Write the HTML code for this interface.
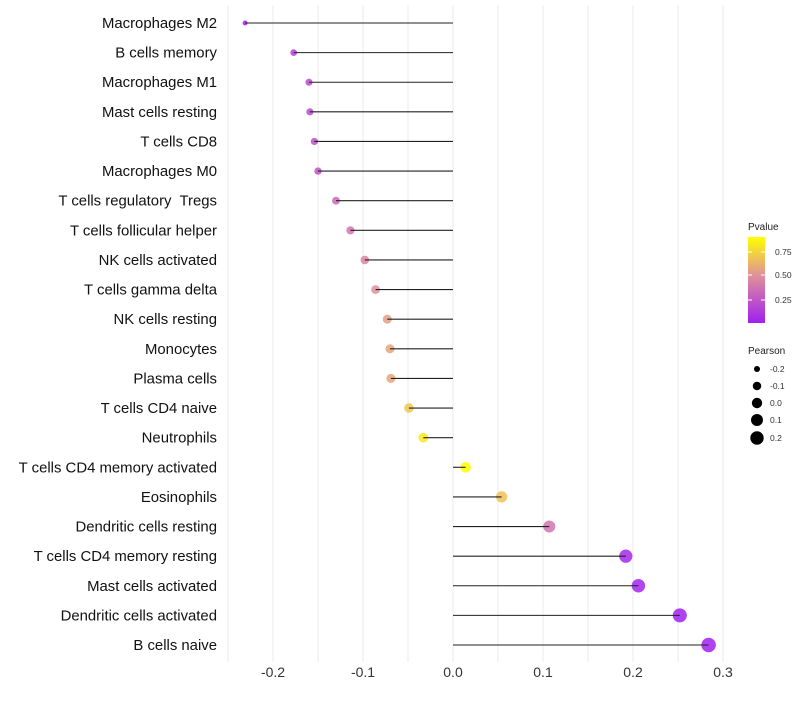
<!DOCTYPE html>
<html><head><meta charset="utf-8"><style>
body{margin:0;background:#fff;font-family:"Liberation Sans",sans-serif}
text{white-space:pre}
</style></head><body>
<svg id="c" width="800" height="700" xmlns="http://www.w3.org/2000/svg">
<defs><linearGradient id="pg" x1="0" y1="1" x2="0" y2="0">
<stop offset="0" stop-color="#A020F0"/><stop offset="0.55" stop-color="#E0909A"/><stop offset="1" stop-color="#FFFF00"/></linearGradient></defs>
</svg>
<script>
const categories=["Macrophages M2","B cells memory","Macrophages M1","Mast cells resting","T cells CD8","Macrophages M0","T cells regulatory  Tregs","T cells follicular helper","NK cells activated","T cells gamma delta","NK cells resting","Monocytes","Plasma cells","T cells CD4 naive","Neutrophils","T cells CD4 memory activated","Eosinophils","Dendritic cells resting","T cells CD4 memory resting","Mast cells activated","Dendritic cells activated","B cells naive"];
const pearson=[-0.231,-0.177,-0.16,-0.159,-0.154,-0.15,-0.13,-0.114,-0.098,-0.086,-0.073,-0.07,-0.069,-0.049,-0.033,0.014,0.054,0.107,0.192,0.206,0.252,0.284];
const pvalue=[0.02,0.15,0.2,0.2,0.22,0.24,0.33,0.38,0.45,0.5,0.55,0.58,0.58,0.7,0.82,0.9,0.68,0.38,0.05,0.03,0.01,0.01];
const xTicks=[-0.2,-0.1,0.0,0.1,0.2,0.3];
const xTickLabels=["-0.2","-0.1","0.0","0.1","0.2","0.3"];
const NS="http://www.w3.org/2000/svg";
const svg=document.getElementById('c');
const X=v=>453+v*900;
const Y=i=>23+i*(622/21);
const R=v=>Math.sqrt(Math.max(2.2,27+89*v));
function lerp(a,b,t){return a.map((x,i)=>Math.round(x+(b[i]-x)*t));}
function col(p){const t=Math.min(1,Math.max(0,(p-0.01)/0.89));const s=[[160,32,240],[224,144,154],[255,255,0]];
 const c=t<0.55?lerp(s[0],s[1],t/0.55):lerp(s[1],s[2],(t-0.55)/0.45);return `rgb(${c})`;}
function el(t,a,p){const e=document.createElementNS(NS,t);for(const k in a)e.setAttribute(k,a[k]);(p||svg).appendChild(e);return e;}
for(let v=-0.25;v<=0.3001;v+=0.05){const g=el('line',{x1:X(v),x2:X(v),y1:5,y2:662,stroke:'#ebebeb','stroke-width':1});

}
xTicks.forEach((v,i)=>{const t=el('text',{x:X(v),y:677,'text-anchor':'middle','font-size':14,fill:'#333'});t.textContent=xTickLabels[i];

});
categories.forEach((c,i)=>{const y=Y(i);
const t=el('text',{x:217,y:y+5,'text-anchor':'end','font-size':14.9,fill:'#111'});t.textContent=c;


const d=el('circle',{cx:X(pearson[i]),cy:y,r:R(pearson[i]),fill:col(pvalue[i]),'fill-opacity':0.85});


const l=el('line',{x1:X(0),x2:X(pearson[i]),y1:y,y2:y,stroke:'#222','stroke-width':1.1});

});
const g=el('g',{});
el('text',{x:748,y:230,'font-size':10,fill:'#222'},g).textContent='Pvalue';
el('rect',{x:748,y:237,width:17,height:86,fill:'url(#pg)'},g);
[[0.75,252],[0.5,275],[0.25,300]].forEach(([v,y])=>{el('text',{x:775,y:y+3,'font-size':8.5,fill:'#333'},g).textContent=v.toFixed(2);
el('line',{x1:748,x2:752,y1:y,y2:y,stroke:'#fff'},g);el('line',{x1:761,x2:765,y1:y,y2:y,stroke:'#fff'},g);});
const g2=el('g',{});
el('text',{x:748,y:354,'font-size':10,fill:'#222'},g2).textContent='Pearson';
[[-0.2,369],[-0.1,386],[0.0,403],[0.1,420],[0.2,438]].forEach(([v,y])=>{el('circle',{cx:757,cy:y,r:R(v)},g2);
el('text',{x:770,y:y+3,'font-size':8.5,fill:'#333'},g2).textContent=v.toFixed(1);});
</script>
</body></html>
